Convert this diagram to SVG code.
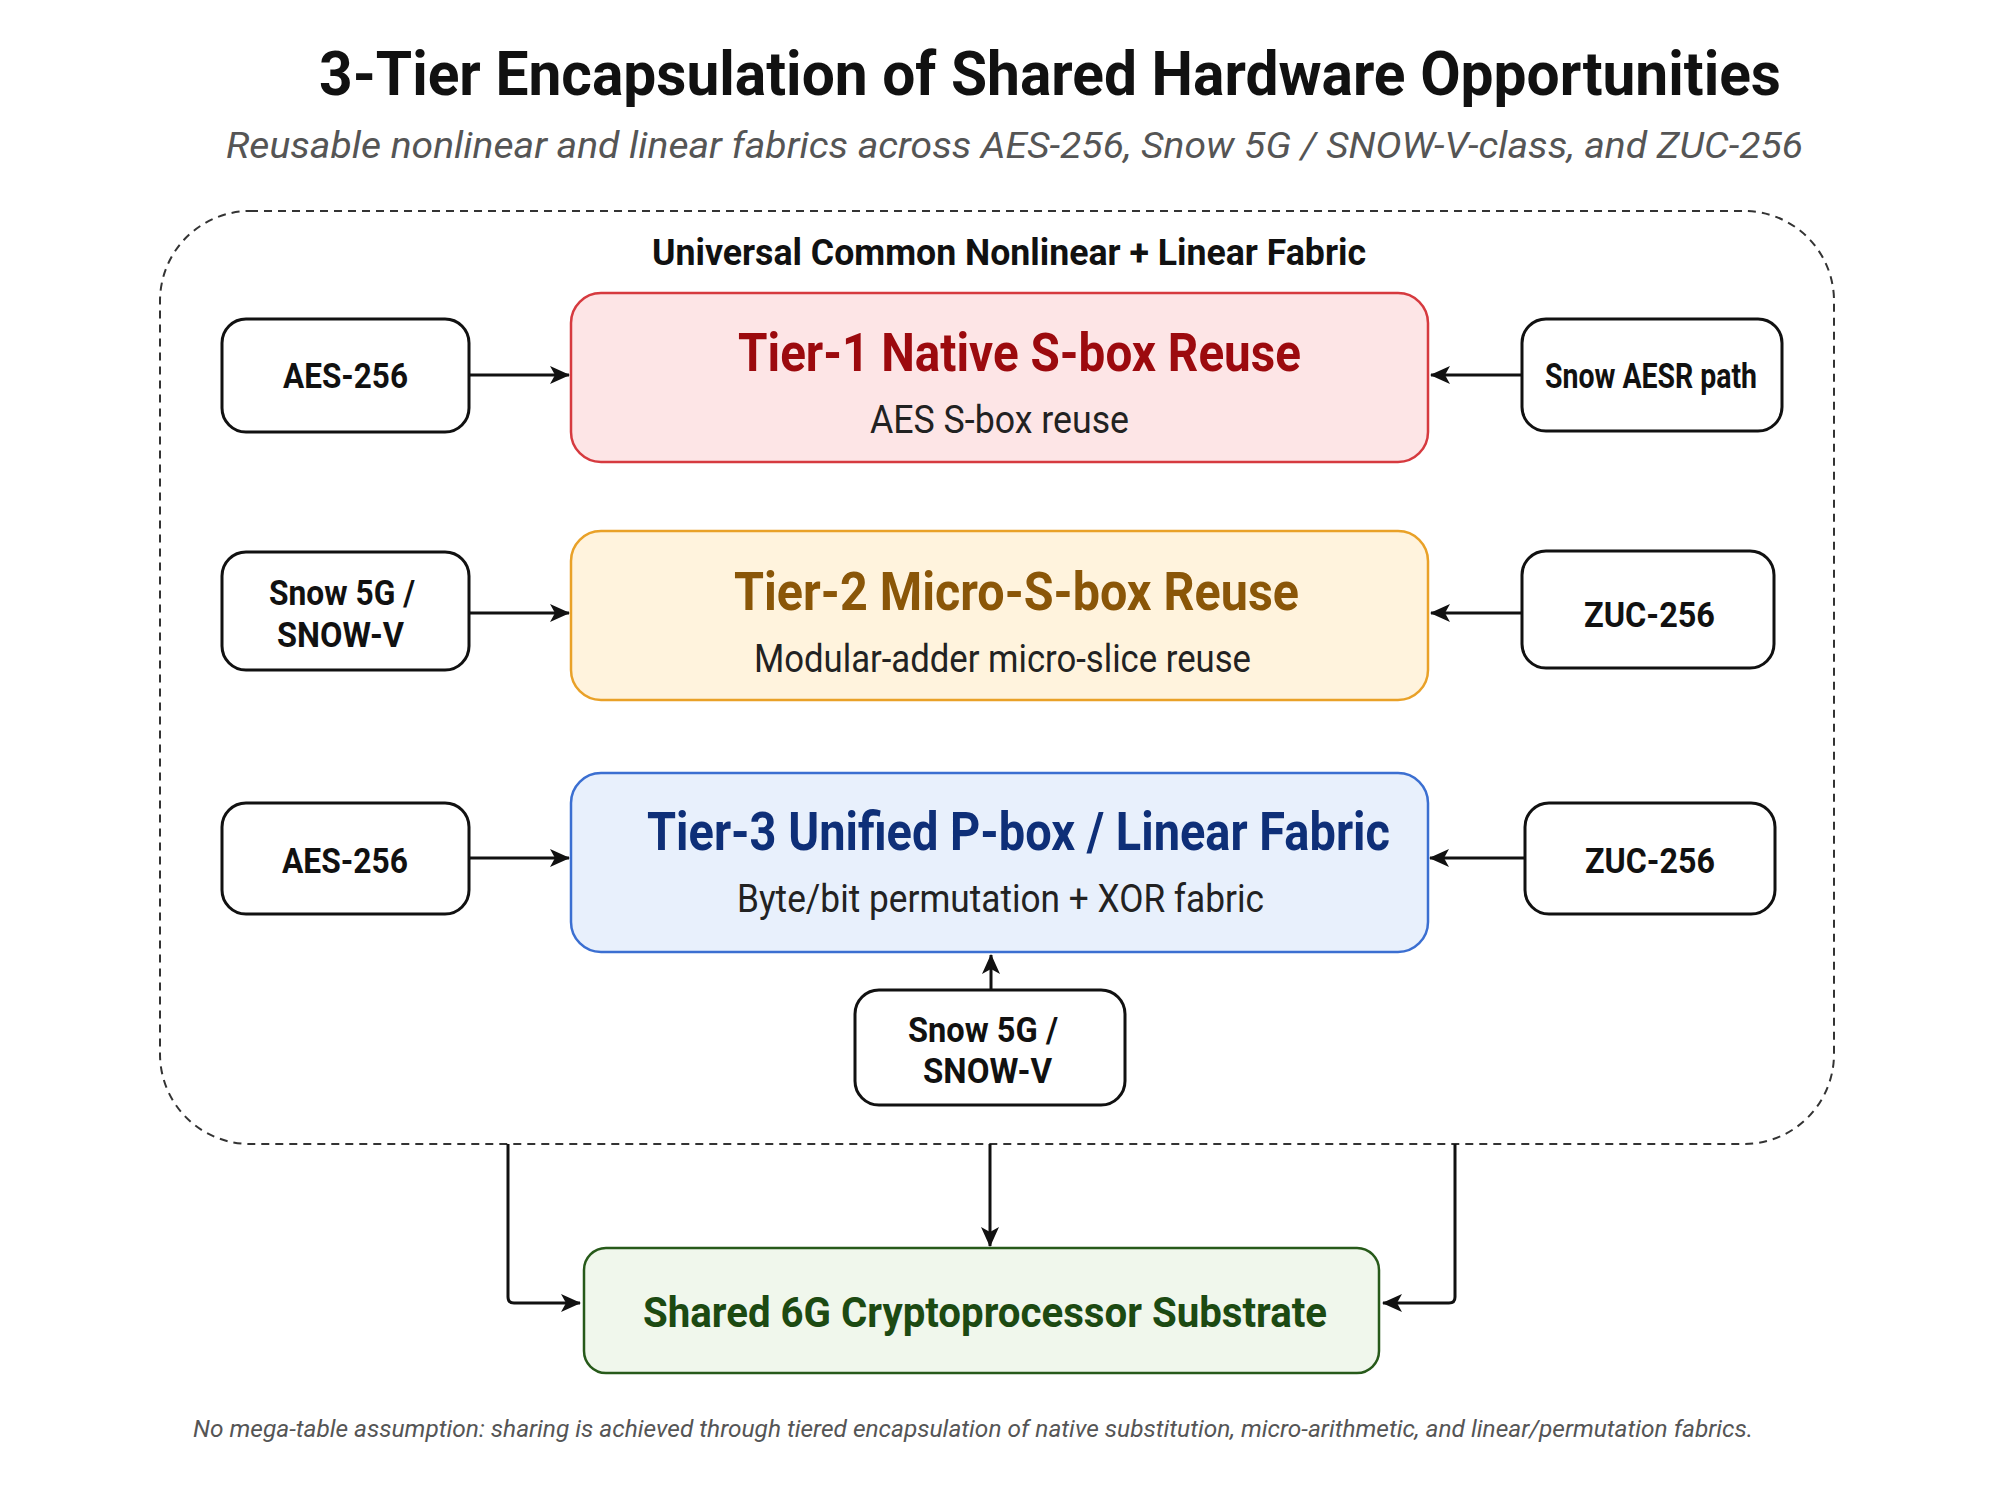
<svg xmlns="http://www.w3.org/2000/svg" width="1992" height="1505" viewBox="0 0 1992 1505">
<defs>
<style>
text{font-family:Roboto,"Liberation Sans",sans-serif}
.ttl{font-weight:bold;font-size:62px;fill:#111}
.sub{font-style:italic;font-size:36px;fill:#555}
.grp{font-weight:bold;font-size:37px;fill:#111}
.lbl{font-weight:bold;font-size:35px;fill:#111}
.tt{font-weight:bold;font-size:54px}
.ts{font-size:38px;fill:#222}
.src{fill:#fff;stroke:#111;stroke-width:3}
.con{fill:none;stroke:#111;stroke-width:3}
.foot{font-style:italic;font-size:23px;fill:#555}
</style>
<marker id="ah" markerUnits="userSpaceOnUse" markerWidth="20" markerHeight="18" viewBox="0 0 20 18" refX="19" refY="9" orient="auto">
<path d="M0,0 L20,9 L0,18 L5,9 Z" fill="#111"/>
</marker>
</defs>
<rect width="1992" height="1505" fill="#fff"/>
<text class="ttl" x="319" y="95" textLength="1462" lengthAdjust="spacingAndGlyphs">3-Tier Encapsulation of Shared Hardware Opportunities</text>
<text class="sub" x="226" y="158" textLength="1577" lengthAdjust="spacingAndGlyphs">Reusable nonlinear and linear fabrics across AES-256, Snow 5G / SNOW-V-class, and ZUC-256</text>
<g id="container">
<rect x="160" y="211" width="1674" height="933" rx="90" fill="none" stroke="#333" stroke-width="2" stroke-dasharray="8 6"/>
<text class="grp" x="652" y="265" textLength="714" lengthAdjust="spacingAndGlyphs">Universal Common Nonlinear + Linear Fabric</text>
</g>
<g id="tier1">
<rect x="571" y="293" width="857" height="169" rx="30" fill="#fde5e6" stroke="#d63a3f" stroke-width="2.5"/>
<text class="tt" x="738" y="371" fill="#9c0a0e" textLength="563" lengthAdjust="spacingAndGlyphs">Tier-1 Native S-box Reuse</text>
<text class="ts" x="870" y="433" textLength="259" lengthAdjust="spacingAndGlyphs">AES S-box reuse</text>
</g>
<g id="tier2">
<rect x="571" y="531" width="857" height="169" rx="30" fill="#fff3dd" stroke="#e9a128" stroke-width="2.5"/>
<text class="tt" x="734" y="610" fill="#8a5608" textLength="565" lengthAdjust="spacingAndGlyphs">Tier-2 Micro-S-box Reuse</text>
<text class="ts" x="754" y="672" textLength="497" lengthAdjust="spacingAndGlyphs">Modular-adder micro-slice reuse</text>
</g>
<g id="tier3">
<rect x="571" y="773" width="857" height="179" rx="30" fill="#e8f0fc" stroke="#3b6fd1" stroke-width="2.5"/>
<text class="tt" x="647" y="850" fill="#0e2f78" textLength="743" lengthAdjust="spacingAndGlyphs">Tier-3 Unified P-box / Linear Fabric</text>
<text class="ts" x="737" y="912" textLength="527" lengthAdjust="spacingAndGlyphs">Byte/bit permutation + XOR fabric</text>
</g>
<g id="aes1">
<rect class="src" x="222" y="319" width="247" height="113" rx="24"/>
<text class="lbl" x="283" y="388" textLength="125" lengthAdjust="spacingAndGlyphs">AES-256</text>
</g>
<g id="snowaesr">
<rect class="src" x="1522" y="319" width="260" height="112" rx="24"/>
<text class="lbl" x="1545" y="388" textLength="212" lengthAdjust="spacingAndGlyphs">Snow AESR path</text>
</g>
<g id="snow1">
<rect class="src" x="222" y="552" width="247" height="118" rx="24"/>
<text class="lbl" x="269" y="605" textLength="146" lengthAdjust="spacingAndGlyphs">Snow 5G /</text>
<text class="lbl" x="277" y="647" textLength="127" lengthAdjust="spacingAndGlyphs">SNOW-V</text>
</g>
<g id="zuc1">
<rect class="src" x="1522" y="551" width="252" height="117" rx="24"/>
<text class="lbl" x="1584" y="627" textLength="131" lengthAdjust="spacingAndGlyphs">ZUC-256</text>
</g>
<g id="aes2">
<rect class="src" x="222" y="803" width="247" height="111" rx="24"/>
<text class="lbl" x="282" y="873" textLength="126" lengthAdjust="spacingAndGlyphs">AES-256</text>
</g>
<g id="zuc2">
<rect class="src" x="1525" y="803" width="250" height="111" rx="24"/>
<text class="lbl" x="1585" y="873" textLength="130" lengthAdjust="spacingAndGlyphs">ZUC-256</text>
</g>
<g id="snow2">
<rect class="src" x="855" y="990" width="270" height="115" rx="24"/>
<text class="lbl" x="908" y="1042" textLength="150" lengthAdjust="spacingAndGlyphs">Snow 5G /</text>
<text class="lbl" x="923" y="1083" textLength="129" lengthAdjust="spacingAndGlyphs">SNOW-V</text>
</g>
<g id="substrate">
<rect x="584" y="1248" width="795" height="125" rx="22" fill="#f0f7ec" stroke="#275a1a" stroke-width="2.5"/>
<text x="643" y="1327" font-weight="bold" font-size="42" fill="#1c4a12" textLength="684" lengthAdjust="spacingAndGlyphs">Shared 6G Cryptoprocessor Substrate</text>
</g>
<g id="connectors">
<line class="con" x1="469" y1="375" x2="569" y2="375" marker-end="url(#ah)"/>
<line class="con" x1="1522" y1="375" x2="1431" y2="375" marker-end="url(#ah)"/>
<line class="con" x1="469" y1="613" x2="569" y2="613" marker-end="url(#ah)"/>
<line class="con" x1="1522" y1="613" x2="1431" y2="613" marker-end="url(#ah)"/>
<line class="con" x1="469" y1="858" x2="569" y2="858" marker-end="url(#ah)"/>
<line class="con" x1="1525" y1="858" x2="1430" y2="858" marker-end="url(#ah)"/>
<line class="con" x1="991" y1="990" x2="991" y2="955" marker-end="url(#ah)"/>
<path class="con" d="M508,1144 V1297 Q508,1303 514,1303 H580" marker-end="url(#ah)"/>
<line class="con" x1="990" y1="1144" x2="990" y2="1246" marker-end="url(#ah)"/>
<path class="con" d="M1455,1144 V1297 Q1455,1303 1449,1303 H1383" marker-end="url(#ah)"/>
</g>
<text class="foot" x="193" y="1437" textLength="1560" lengthAdjust="spacingAndGlyphs">No mega-table assumption: sharing is achieved through tiered encapsulation of native substitution, micro-arithmetic, and linear/permutation fabrics.</text>
</svg>
